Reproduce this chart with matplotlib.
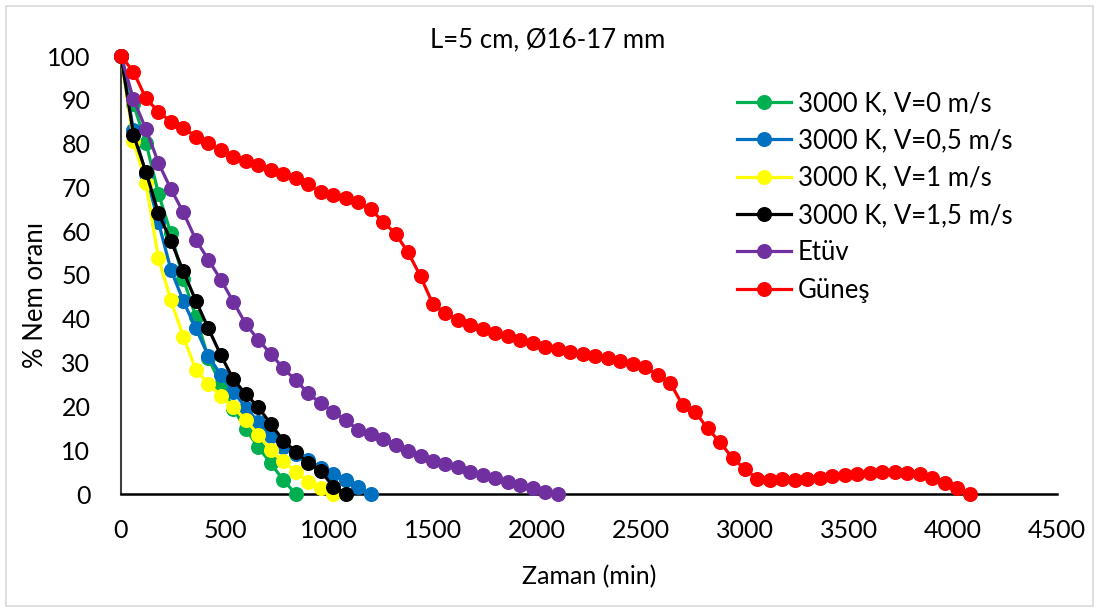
import matplotlib
matplotlib.use("Agg")
import matplotlib.pyplot as plt
from matplotlib.patches import Rectangle

plt.rcParams['font.family'] = ['Lato', 'DejaVu Sans']

# Sampling interval of all measurements (min)
step = 60

labels = ["3000 K, V=0 m/s", "3000 K, V=0,5 m/s", "3000 K, V=1 m/s",
          "3000 K, V=1,5 m/s", "Etüv", "Güneş"]
colors = ["#00B050", "#0070C0", "#FFFF00", "#000000", "#7030A0", "#FF0000"]

v0 = [100, 89.0, 80.2, 68.6, 59.5, 49.0, 40.5, 31.0, 25.0, 19.5, 14.8, 10.7,
      7.0, 3.2, 0]
v05 = [100, 83.0, 73.0, 62.0, 51.2, 44.0, 37.8, 31.5, 27.2, 23.4, 19.7, 16.5,
       13.2, 10.8, 9.2, 7.8, 6.0, 4.6, 3.2, 1.6, 0]
v1 = [100, 80.5, 71.0, 53.8, 44.2, 35.9, 28.3, 25.2, 22.4, 19.8, 16.9, 13.5,
      10.0, 7.6, 5.1, 2.8, 1.3, 0]
v15 = [100, 82.0, 73.5, 64.1, 57.8, 50.8, 44.1, 37.8, 31.7, 26.2, 22.8, 19.8,
       16.0, 12.2, 9.7, 7.0, 5.3, 1.7, 0]
etuv = [100, 90.1, 83.3, 75.6, 69.6, 64.3, 58.0, 53.5, 48.9, 43.9, 38.8, 35.2,
        32.0, 28.7, 26.0, 23.0, 20.7, 18.8, 16.9, 14.6, 13.6, 12.5, 11.2, 9.9,
        8.7, 7.6, 6.8, 6.1, 5.1, 4.3, 3.6, 2.8, 2.1, 1.3, 0.4, 0]
gunes = [100, 96.4, 90.3, 87.3, 85.0, 83.6, 81.6, 80.1, 78.5, 77.0, 76.0, 75.1,
         74.0, 73.0, 72.1, 70.7, 69.0, 68.3, 67.5, 66.7, 65.0, 62.2, 59.4, 55.2,
         49.7, 43.3, 41.3, 39.7, 38.6, 37.6, 36.8, 36.1, 35.2, 34.4, 33.6, 33.0,
         32.5, 32.0, 31.5, 31.0, 30.4, 29.6, 28.9, 27.2, 25.4, 20.3, 18.8, 15.0,
         11.8, 8.2, 5.7, 3.4, 3.2, 3.4, 3.2, 3.4, 3.7, 4.0, 4.3, 4.6, 4.9, 5.1,
         5.0, 4.7, 4.6, 3.6, 2.4, 1.3, 0]
series = [v0, v05, v1, v15, etuv, gunes]

xticks = [0, 500, 1000, 1500, 2000, 2500, 3000, 3500, 4000, 4500]
yticks = [0, 10, 20, 30, 40, 50, 60, 70, 80, 90, 100]

W, H = 1099, 608
fig = plt.figure(figsize=(W / 100, H / 100), dpi=100)
ax = fig.add_axes([121 / W, 1 - 494 / H, (1057 - 121) / W, (494 - 56) / H])

for vals, lab, col in zip(series, labels, colors):
    t = [i * step for i in range(len(vals))]
    ax.plot(t, vals, color=col, lw=2.3, marker='o', ms=9.8, label=lab,
            clip_on=False, zorder=3)

ax.set_xlim(0, 4500)
ax.set_ylim(0, 100)
ax.set_xticks(xticks)
ax.set_yticks(yticks)
ax.tick_params(length=0, labelsize=18, colors='black')
ax.tick_params(axis='y', pad=22)
ax.tick_params(axis='x', pad=18)

for s in ['top', 'right']:
    ax.spines[s].set_visible(False)
ax.spines['bottom'].set_linewidth(1.8)
ax.spines['bottom'].set_color('black')
ax.spines['left'].set_linewidth(1.5)
ax.spines['left'].set_color('#404040')

fig.text(548 / W, 1 - 40 / H, "L=5 cm, Ø16-17 mm", ha='center', va='center',
         fontsize=18.5)
fig.text(589 / W, 1 - 577 / H, "Zaman (min)", ha='center', va='center',
         fontsize=18)
fig.text(36 / W, 1 - 295 / H, "% Nem oranı", ha='center', va='center',
         rotation=90, fontsize=18.5)

leg = ax.legend(loc='upper left', bbox_to_anchor=(737 / W, 1 - 91 / H),
                bbox_transform=fig.transFigure, frameon=False, fontsize=18.5,
                handlelength=2.1, handletextpad=0.27, labelspacing=0.48,
                borderaxespad=0, borderpad=0)

fig.add_artist(Rectangle((6 / W, 2 / H), (W - 12) / W, (H - 8) / H,
                         transform=fig.transFigure, fill=False,
                         edgecolor='#d9d9d9', lw=1.2))

fig.savefig("out.png", dpi=100)
